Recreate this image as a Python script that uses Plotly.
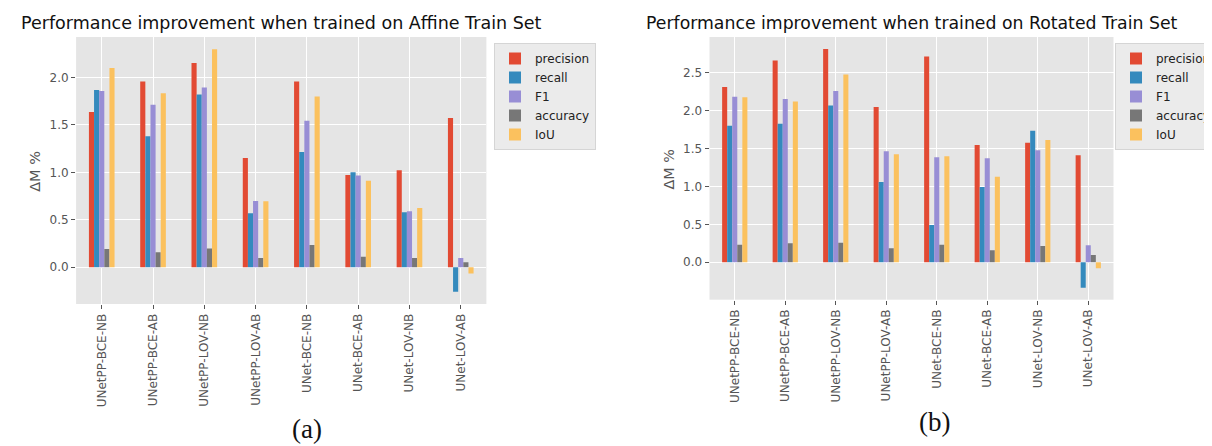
import plotly.graph_objects as go

models = ["UNetPP-BCE-NB", "UNetPP-BCE-AB", "UNetPP-LOV-NB", "UNetPP-LOV-AB",
          "UNet-BCE-NB", "UNet-BCE-AB", "UNet-LOV-NB", "UNet-LOV-AB"]
metrics = ["precision", "recall", "F1", "accuracy", "IoU"]

# Panel (a): trained on Affine Train Set
affine_precision = [1.635, 1.958, 2.151, 1.151, 1.958, 0.972, 1.021, 1.572]
affine_recall    = [1.867, 1.379, 1.821, 0.568, 1.214, 1.000, 0.579, -0.260]
affine_f1        = [1.856, 1.712, 1.895, 0.698, 1.544, 0.965, 0.589, 0.098]
affine_accuracy  = [0.193, 0.158, 0.196, 0.098, 0.235, 0.109, 0.098, 0.053]
affine_iou       = [2.098, 1.832, 2.298, 0.695, 1.800, 0.912, 0.625, -0.067]

# Panel (b): trained on Rotated Train Set
rot_precision = [2.312, 2.662, 2.815, 2.050, 2.714, 1.547, 1.578, 1.412]
rot_recall    = [1.800, 1.827, 2.067, 1.058, 0.490, 0.992, 1.735, -0.337]
rot_f1        = [2.185, 2.155, 2.260, 1.464, 1.386, 1.372, 1.477, 0.223]
rot_accuracy  = [0.232, 0.249, 0.258, 0.184, 0.232, 0.157, 0.214, 0.096]
rot_iou       = [2.177, 2.120, 2.478, 1.425, 1.399, 1.128, 1.613, -0.079]

affine_ticks = [0.0, 0.5, 1.0, 1.5, 2.0]
rot_ticks = [0.0, 0.5, 1.0, 1.5, 2.0, 2.5]

colors = ["#E24A33", "#348ABD", "#988ED5", "#777777", "#FBC15E"]

affine = [affine_precision, affine_recall, affine_f1, affine_accuracy, affine_iou]
rotated = [rot_precision, rot_recall, rot_f1, rot_accuracy, rot_iou]

W, H = 1212, 446
def px(x): return x / W
def py(y): return 1 - y / H

fig = go.Figure()
for name, vals, c in zip(metrics, affine, colors):
    fig.add_trace(go.Bar(x=models, y=vals, name=name, marker_color=c,
                         marker_line_width=0, xaxis="x", yaxis="y", legend="legend"))
for name, vals, c in zip(metrics, rotated, colors):
    fig.add_trace(go.Bar(x=models, y=vals, name=name, marker_color=c,
                         marker_line_width=0, xaxis="x2", yaxis="y2", legend="legend2"))

def yrange(series):
    lo = min(min(s) for s in series + [[0]])
    hi = max(max(s) for s in series)
    m = (hi - lo) * 0.05
    return [lo - m, hi + m]

font = "DejaVu Sans"
tickfont = dict(family=font, size=12, color="#555555")
common_x = dict(type="category", range=[-0.5, 7.5], showgrid=True, gridcolor="white",
                gridwidth=1, ticks="outside", ticklen=4, tickcolor="#555555",
                tickangle=-90, tickfont=tickfont, showline=False, zeroline=False)
common_y = dict(showgrid=True, gridcolor="white", gridwidth=1, ticks="outside",
                ticklen=4, tickcolor="#555555", tickfont=tickfont, tickformat=".1f",
                zeroline=False, showline=False)
legend_style = dict(xanchor="left", yanchor="top", bgcolor="#EBEBEB",
                    bordercolor="#D5D5D5", borderwidth=1,
                    font=dict(family=font, size=12, color="#222222"),
                    itemwidth=30, tracegroupgap=0)

fig.update_layout(
    width=W, height=H,
    margin=dict(l=0, r=0, t=0, b=0, autoexpand=False),
    paper_bgcolor="white", plot_bgcolor="#E5E5E5",
    barmode="group", bargap=0.5, bargroupgap=0,
    font=dict(family=font, color="#222222"),
    xaxis=dict(domain=[px(68.1), px(478.4)], anchor="y", **common_x),
    yaxis=dict(domain=[py(296), py(29)], anchor="x", range=yrange(affine),
               tickvals=affine_ticks, **common_y),
    xaxis2=dict(domain=[px(701.5), px(1105.5)], anchor="y2", **common_x),
    yaxis2=dict(domain=[py(291.7), py(29)], anchor="x2", range=yrange(rotated),
                tickvals=rot_ticks, **common_y),
    legend=dict(x=px(486), y=py(35), **legend_style),
    legend2=dict(x=px(1107), y=py(35), **legend_style),
    showlegend=True,
)

ann = [
    dict(text="Performance improvement when trained on Affine Train Set",
         x=px(273.3), y=py(15), font=dict(family=font, size=17.5, color="#111111")),
    dict(text="Performance improvement when trained on Rotated Train Set",
         x=px(903.5), y=py(15), font=dict(family=font, size=17.3, color="#111111")),
    dict(text="ΔM %", x=px(26.8), y=py(163), textangle=-90,
         font=dict(family=font, size=14.5, color="#555555")),
    dict(text="ΔM %", x=px(660.5), y=py(162), textangle=-90,
         font=dict(family=font, size=14.3, color="#555555")),
    dict(text="(a)", x=px(299), y=py(421),
         font=dict(family="Liberation Serif", size=27, color="#111111")),
    dict(text="(b)", x=px(926), y=py(414),
         font=dict(family="Liberation Serif", size=27, color="#111111")),
]
for a in ann:
    fig.add_annotation(xref="paper", yref="paper", xanchor="center", yanchor="middle",
                       showarrow=False, **a)

fig.write_html("out.html")
